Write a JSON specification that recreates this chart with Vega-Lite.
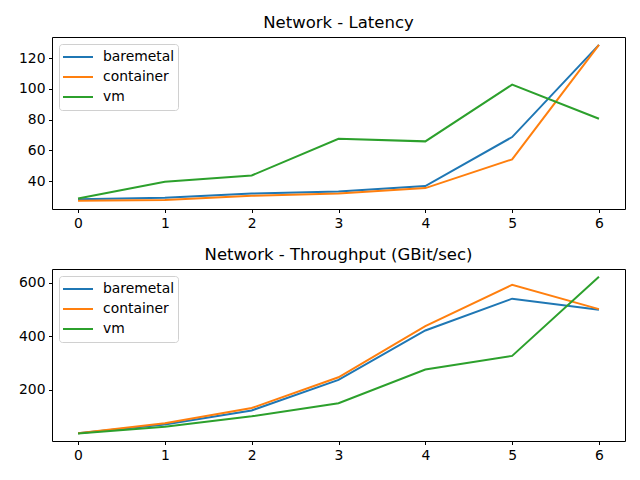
{
  "$schema": "https://vega.github.io/schema/vega-lite/v6.json",
  "padding": {"left": 15, "top": 14, "right": 10, "bottom": 5},
  "spacing": 11,
  "datasets": {
    "latency": [
      {"x": 0, "series": "baremetal", "value": 28.2},
      {"x": 1, "series": "baremetal", "value": 29.2},
      {"x": 2, "series": "baremetal", "value": 32.0},
      {"x": 3, "series": "baremetal", "value": 33.3},
      {"x": 4, "series": "baremetal", "value": 36.8},
      {"x": 5, "series": "baremetal", "value": 68.7},
      {"x": 6, "series": "baremetal", "value": 128.7},
      {"x": 0, "series": "container", "value": 27.3},
      {"x": 1, "series": "container", "value": 27.7},
      {"x": 2, "series": "container", "value": 30.5},
      {"x": 3, "series": "container", "value": 32.0},
      {"x": 4, "series": "container", "value": 35.5},
      {"x": 5, "series": "container", "value": 54.2},
      {"x": 6, "series": "container", "value": 128.7},
      {"x": 0, "series": "vm", "value": 28.8},
      {"x": 1, "series": "vm", "value": 39.6},
      {"x": 2, "series": "vm", "value": 43.7},
      {"x": 3, "series": "vm", "value": 67.6},
      {"x": 4, "series": "vm", "value": 65.9},
      {"x": 5, "series": "vm", "value": 102.8},
      {"x": 6, "series": "vm", "value": 80.6}
    ],
    "throughput": [
      {"x": 0, "series": "baremetal", "value": 38},
      {"x": 1, "series": "baremetal", "value": 70},
      {"x": 2, "series": "baremetal", "value": 123},
      {"x": 3, "series": "baremetal", "value": 237},
      {"x": 4, "series": "baremetal", "value": 422},
      {"x": 5, "series": "baremetal", "value": 541},
      {"x": 6, "series": "baremetal", "value": 500},
      {"x": 0, "series": "container", "value": 38},
      {"x": 1, "series": "container", "value": 75},
      {"x": 2, "series": "container", "value": 132},
      {"x": 3, "series": "container", "value": 247},
      {"x": 4, "series": "container", "value": 438},
      {"x": 5, "series": "container", "value": 593},
      {"x": 6, "series": "container", "value": 502},
      {"x": 0, "series": "vm", "value": 37},
      {"x": 1, "series": "vm", "value": 62},
      {"x": 2, "series": "vm", "value": 101},
      {"x": 3, "series": "vm", "value": 150},
      {"x": 4, "series": "vm", "value": 276},
      {"x": 5, "series": "vm", "value": 327},
      {"x": 6, "series": "vm", "value": 623}
    ]
  },
  "config": {
    "font": "DejaVu Sans",
    "view": {"stroke": "black", "strokeWidth": 1},
    "title": {"fontSize": 16.5, "fontWeight": "normal", "color": "black", "offset": 6},
    "axis": {
      "grid": false,
      "domain": false,
      "tickColor": "black",
      "tickSize": 3.5,
      "labelPadding": 3.5,
      "labelFontSize": 13.9,
      "labelColor": "black",
      "title": null
    },
    "legend": {
      "orient": "top-left",
      "offset": 7,
      "title": null,
      "strokeColor": "#d0d0d0",
      "fillColor": "white",
      "cornerRadius": 3,
      "padding": 3,
      "symbolType": "stroke",
      "symbolSize": 900,
      "symbolStrokeWidth": 2,
      "labelFontSize": 13.9,
      "labelColor": "black",
      "rowPadding": 0,
      "clipHeight": 20,
      "labelOffset": 9
    },
    "line": {"strokeWidth": 2}
  },
  "vconcat": [
    {
      "title": "Network - Latency",
      "width": 573,
      "height": 172,
      "data": {"name": "latency"},
      "mark": {"type": "line", "clip": true},
      "encoding": {
        "x": {"field": "x", "type": "quantitative", "scale": {"domain": [-0.3, 6.3], "nice": false, "zero": false}, "axis": {"values": [0, 1, 2, 3, 4, 5, 6], "format": "d", "minExtent": 25, "maxExtent": 25}},
        "y": {"field": "value", "type": "quantitative", "scale": {"domain": [21.9, 133.8], "nice": false, "zero": false}, "axis": {"values": [40, 60, 80, 100, 120], "minExtent": 36, "maxExtent": 36}},
        "color": {"field": "series", "type": "nominal", "scale": {"domain": ["baremetal", "container", "vm"], "range": ["#1f77b4", "#ff7f0e", "#2ca02c"]}}
      }
    },
    {
      "title": "Network - Throughput (GBit/sec)",
      "width": 573,
      "height": 172,
      "data": {"name": "throughput"},
      "mark": {"type": "line", "clip": true},
      "encoding": {
        "x": {"field": "x", "type": "quantitative", "scale": {"domain": [-0.3, 6.3], "nice": false, "zero": false}, "axis": {"values": [0, 1, 2, 3, 4, 5, 6], "format": "d"}},
        "y": {"field": "value", "type": "quantitative", "scale": {"domain": [8.7, 652], "nice": false, "zero": false}, "axis": {"values": [200, 400, 600], "minExtent": 36, "maxExtent": 36}},
        "color": {"field": "series", "type": "nominal", "scale": {"domain": ["baremetal", "container", "vm"], "range": ["#1f77b4", "#ff7f0e", "#2ca02c"]}}
      }
    }
  ],
  "resolve": {"legend": {"color": "independent"}, "scale": {"color": "shared"}}
}
